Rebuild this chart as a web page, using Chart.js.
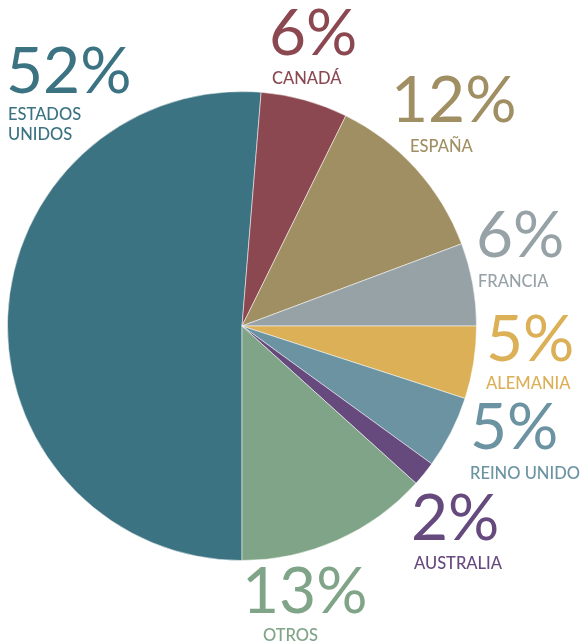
<!DOCTYPE html>
<html>
<head>
<meta charset="utf-8">
<script src="https://cdn.jsdelivr.net/npm/chart.js@4"></script>
<style>
  html, body { margin: 0; padding: 0; background: #fff; }
  #wrap { width: 586px; height: 643px; }
</style>
</head>
<body>
<div id="wrap"><canvas id="plot" width="586" height="643"></canvas></div>
<script>
// Data
const countries = ['ESTADOS UNIDOS', 'CANADÁ', 'ESPAÑA', 'FRANCIA', 'ALEMANIA', 'REINO UNIDO', 'AUSTRALIA', 'OTROS'];
const shares = [51.3, 6.0, 12.0, 5.7, 5.0, 5.0, 1.7, 13.3];
const shareLabels = ['52%', '6%', '12%', '6%', '5%', '5%', '2%', '13%'];
const colors = ['#3b7382', '#8c4850', '#a08f62', '#97a2a7', '#dbb056', '#6b93a1', '#664a7e', '#80a487'];

// label placement: [number x, number baseline, name x, name baseline(s)]
const labelPos = [
    [6, 93, 8, [120, 140]],
    [269, 55, 272, [84]],
    [391, 122, 410, [152]],
    [476, 257, 478, [287]],
    [486, 361, 486, [389]],
    [470, 449, 470, [479]],
    [411, 540, 414, [569]],
    [242, 613, 263, [641]]
];

const labelPlugin = {
    id: 'bigLabels',
    afterDraw(chart) {
        const ctx = chart.ctx;
        ctx.save();
        ctx.textAlign = 'left';
        ctx.textBaseline = 'alphabetic';
        shareLabels.forEach((txt, i) => {
            const p = labelPos[i];
            ctx.fillStyle = colors[i];
            ctx.font = '400 64px Lato';
            ctx.fillText(txt, p[0], p[1]);
            ctx.font = '500 16.5px Lato';
            const words = i === 0 ? ['ESTADOS', 'UNIDOS'] : [countries[i]];
            words.forEach((w, j) => ctx.fillText(w, p[2], p[3][j]));
        });
        ctx.restore();
    }
};

const ctx = document.getElementById('plot');
let plot = new Chart(ctx, {
    type: 'pie',
    data: {
        labels: countries,
        datasets: [{
            data: shares,
            backgroundColor: colors,
            borderColor: 'rgba(255,255,255,0.5)',
            borderWidth: 1
        }]
    },
    options: {
        responsive: false,
        animation: false,
        rotation: 180,
        layout: { padding: { left: 7, right: 109, top: 91, bottom: 82 } },
        plugins: {
            legend: { display: false },
            tooltip: { enabled: false }
        }
    },
    plugins: [labelPlugin]
});
</script>
</body>
</html>
